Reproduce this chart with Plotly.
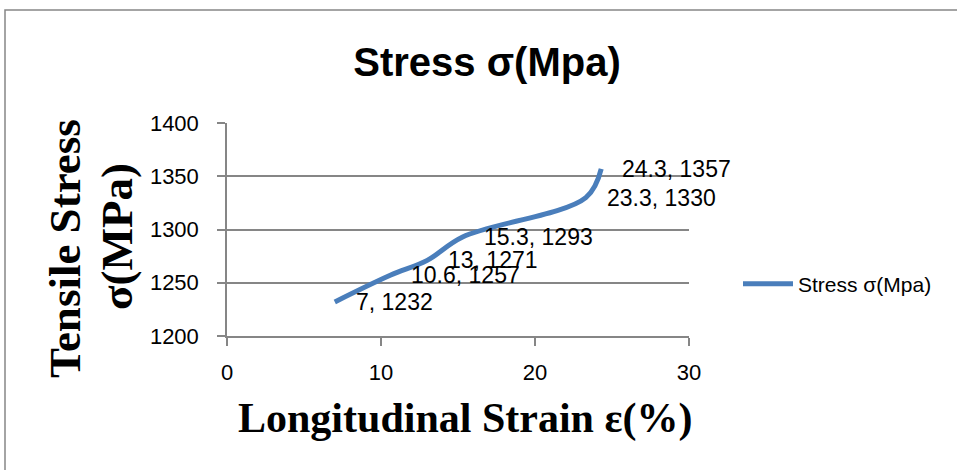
import plotly.graph_objects as go

strain = [7, 10.6, 13, 15.3, 23.3, 24.3]
stress = [1232, 1257, 1271, 1293, 1330, 1357]
series_name = "Stress σ(Mpa)"
x_ticks = [0, 10, 20, 30]
y_ticks = [1200, 1250, 1300, 1350, 1400]

W, H = 957, 470
L, R, T, B = 227, 689, 123, 336  # plot area in pixels

def px(xp):
    return (xp - L) / (R - L)

def py(yp):
    return (B - yp) / (B - T)

GRID = "#868686"
BLUE = "#4A7EBB"

fig = go.Figure()
fig.add_trace(go.Scatter(
    x=strain, y=stress, mode="lines", name=series_name,
    line=dict(color=BLUE, width=5, shape="spline", smoothing=1),
))

annotations = []
for xv, yv in zip(strain, stress):
    annotations.append(dict(
        x=xv, y=yv, xref="x", yref="y", text=f"{xv}, {yv}",
        showarrow=False, xanchor="left", yanchor="middle", xshift=19,
        font=dict(family="Liberation Sans, Arial, sans-serif", size=23, color="black"),
    ))

# axis titles
annotations.append(dict(
    x=px(465), y=py(418), xref="paper", yref="paper",
    text="<b>Longitudinal Strain ε(%)</b>", showarrow=False,
    xanchor="center", yanchor="middle",
    font=dict(family="Liberation Serif, Times New Roman, serif", size=42, color="black"),
))
annotations.append(dict(
    x=px(65), y=py(249), xref="paper", yref="paper",
    text="<b>Tensile Stress</b>", showarrow=False, textangle=-90,
    xanchor="center", yanchor="middle",
    font=dict(family="Liberation Serif, Times New Roman, serif", size=45, color="black"),
))
annotations.append(dict(
    x=px(117), y=py(237), xref="paper", yref="paper",
    text="<b>σ(MPa)</b>", showarrow=False, textangle=-90,
    xanchor="center", yanchor="middle",
    font=dict(family="Liberation Serif, Times New Roman, serif", size=45, color="black"),
))

fig.update_layout(
    width=W, height=H,
    margin=dict(l=L, r=W - R, t=T, b=H - B, autoexpand=False),
    paper_bgcolor="white", plot_bgcolor="white",
    title=dict(
        text="<b>Stress σ(Mpa)</b>", x=487 / W, y=(H - 62) / H,
        xref="container", yref="container", xanchor="center", yanchor="middle",
        font=dict(family="Liberation Sans, Arial, sans-serif", size=40, color="black"),
    ),
    showlegend=True,
    legend=dict(
        x=px(738), y=py(284), xanchor="left", yanchor="middle",
        font=dict(family="Liberation Sans, Arial, sans-serif", size=21, color="black"),
        bgcolor="rgba(0,0,0,0)", itemwidth=50,
    ),
    annotations=annotations,
    shapes=[dict(
        type="rect", xref="paper", yref="paper",
        x0=px(5), x1=px(975), y0=py(490), y1=py(10),
        line=dict(color=GRID, width=1.5), fillcolor="rgba(0,0,0,0)", layer="below",
    )],
)

fig.update_xaxes(
    range=[0, 30], tickvals=x_ticks, ticktext=[str(v) for v in x_ticks],
    showgrid=False, zeroline=False, showline=True, linecolor=GRID, linewidth=1.5,
    ticks="outside", ticklen=8, tickcolor=GRID, tickwidth=1.5,
    tickfont=dict(family="Liberation Sans, Arial, sans-serif", size=22, color="black"),
    ticklabelstandoff=8,
)
fig.update_yaxes(
    range=[1200, 1400], tickvals=y_ticks, ticktext=[str(v) for v in y_ticks],
    showgrid=True, gridcolor=GRID, gridwidth=1.5, zeroline=False,
    showline=True, linecolor=GRID, linewidth=1.5,
    ticks="outside", ticklen=8, tickcolor=GRID, tickwidth=1.5,
    tickfont=dict(family="Liberation Sans, Arial, sans-serif", size=22, color="black"),
    ticklabelstandoff=14,
)

fig.write_html(
    "out.html",
    config={"displayModeBar": False},
    post_script="document.body.style.margin='0';document.body.style.overflow='hidden';",
)
